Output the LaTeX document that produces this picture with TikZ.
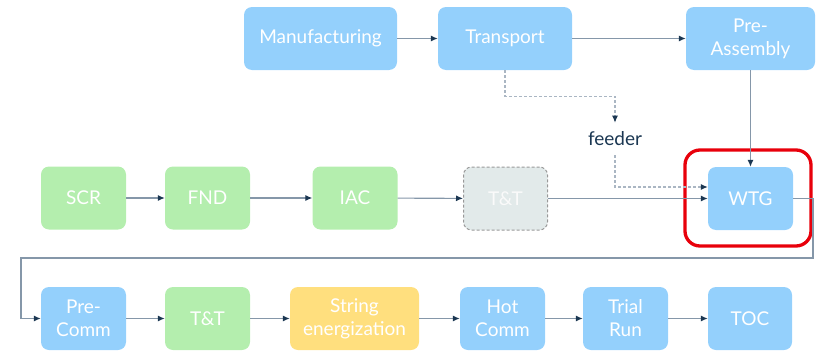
\documentclass[tikz,border=0pt]{standalone}
\usepackage{fontspec}
\setmainfont{Lato}
\usepackage{tikz}
\usetikzlibrary{arrows.meta}
\definecolor{stageblue}{HTML}{94D0FC}
\definecolor{stagegreen}{HTML}{B4EEAE}
\definecolor{stageyellow}{HTML}{FFDF7E}
\definecolor{stagegray}{HTML}{E2EAEA}
\definecolor{flowline}{HTML}{8597A9}
\definecolor{flowtip}{HTML}{1B3752}
\definecolor{hlred}{HTML}{E8000B}
\tikzset{
  stage/.style={rounded corners=8pt, minimum height=63pt, inner sep=0pt, text=white,
    align=center, font=\fontsize{19}{23}\selectfont},
  bluestage/.style={stage, fill=stageblue, minimum width=85pt},
  greenstage/.style={stage, fill=stagegreen, minimum width=85pt},
  yellowstage/.style={stage, fill=stageyellow, minimum width=129pt},
  graystage/.style={stage, fill=stagegray, draw=gray!80, dash pattern=on 3pt off 2pt,
    line width=1pt, minimum width=84pt, text=white!96!gray},
  flow/.style={draw=flowline, line width=1.1pt, -{Latex[length=7pt,width=6pt,color=flowtip]}},
  feedflow/.style={flow, draw=flowline!70, dash pattern=on 3pt off 2pt},
  hilite/.style={draw=hlred, line width=3.3pt, rounded corners=15pt},
}
\begin{document}
\begin{tikzpicture}[x=1pt,y=-1pt]
\useasboundingbox (0,0) rectangle (820,351);
% Top row: supply
\node[bluestage, minimum width=153pt] (manuf) at (320.5,38.5) {Manufacturing};
\node[bluestage, minimum width=134pt] (transp) at (505,38.5) {Transport};
\node[bluestage, minimum width=129pt] (preasm) at (750.5,38.5) {Pre-\\Assembly};
% Middle row: site works
\node[greenstage] (scr) at (83.5,198) {SCR};
\node[greenstage] (fnd) at (207.5,198) {FND};
\node[greenstage] (iac) at (355,198) {IAC};
\node[graystage] (tt) at (505.5,198.5) {T\&T};
\node[bluestage] (wtg) at (750.5,198.5) {WTG};
\node[text=flowtip, inner sep=9pt, font=\fontsize{19}{23}\selectfont] (feeder) at (615,139) {feeder};
% Bottom row: commissioning
\node[bluestage] (precomm) at (83.5,318.5) {Pre-\\Comm};
\node[greenstage] (tt2) at (207.5,318.5) {T\&T};
\node[yellowstage] (string) at (354.5,318.5) {String\\energization};
\node[bluestage] (hotcomm) at (502.5,318.5) {Hot\\Comm};
\node[bluestage] (trial) at (625.5,318.5) {Trial\\Run};
\node[bluestage, minimum width=84pt] (toc) at (750,318.5) {TOC};
% Highlight round WTG
\draw[hilite] (685,150) rectangle (811,246);
% Connectors
\coordinate (turnR) at (813,258);
\coordinate (turnL) at (21,258);
\draw[flow] (manuf) -- (transp);
\draw[flow] (transp) -- (preasm);
\draw[flow] (preasm) -- (wtg);
\draw[feedflow] (transp.south) -- ++(0,26) -| (feeder.north);
\draw[feedflow] (feeder.south) |- ([yshift=11.5pt]wtg.west);
\draw[flow] (scr) -- (fnd);
\draw[flow] (fnd) -- (iac);
\draw[flow] (iac) -- (tt);
\draw[flow] (tt) -- (wtg);
\draw[flow] (wtg.east) -| (turnR) -- (turnL) |- (precomm.west);
\draw[flow] (precomm) -- (tt2);
\draw[flow] (tt2) -- (string);
\draw[flow] (string) -- (hotcomm);
\draw[flow] (hotcomm) -- (trial);
\draw[flow] (trial) -- (toc);
\end{tikzpicture}
\end{document}
